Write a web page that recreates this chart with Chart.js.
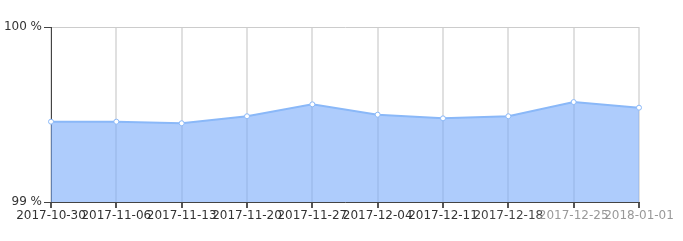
<!DOCTYPE html>
<html>
<head>
<meta charset="utf-8">
<style>
html,body{margin:0;padding:0;background:#fff;}
#wrap{width:683px;height:241px;}
</style>
<script src="https://cdn.jsdelivr.net/npm/chart.js@4/dist/chart.umd.min.js"></script>
</head>
<body>
<div id="wrap"><canvas id="c" width="683" height="241"></canvas></div>
<script>
const categories = ['2017-10-30','2017-11-06','2017-11-13','2017-11-20','2017-11-27','2017-12-04','2017-12-11','2017-12-18','2017-12-25','2018-01-01'];
const availability = [99.459, 99.459, 99.450, 99.490, 99.558, 99.499, 99.478, 99.490, 99.571, 99.539];
const yTicks = [99, 100];
const xLabelColors = ['#333','#333','#333','#333','#333','#333','#333','#444','#999','#999'];

new Chart(document.getElementById('c'), {
  type: 'line',
  data: {
    labels: categories,
    datasets: [{
      data: availability,
      fill: 'start',
      backgroundColor: 'rgba(120,170,250,0.6)',
      borderColor: '#8ab8f8',
      borderWidth: 2,
      tension: 0,
      pointRadius: 2.5,
      pointBackgroundColor: '#fff',
      pointBorderColor: '#8ab8f8',
      pointBorderWidth: 1
    }]
  },
  options: {
    responsive: false,
    animation: false,
    devicePixelRatio: 1,
    layout: { padding: { left: 0, right: 44, top: 27, bottom: 0 } },
    plugins: { legend: { display: false }, tooltip: { enabled: false } },
    scales: {
      x: {
        offset: false,
        afterFit: s => { s.height = 39; },
        grid: { color: '#e0e0e0', lineWidth: 2, tickLength: 6, tickColor: '#555' },
        border: { color: '#444', width: 1 },
        ticks: {
          autoSkip: false, maxRotation: 0, minRotation: 0, padding: 1,
          color: xLabelColors,
          font: { family: 'DejaVu Sans', size: 12 }
        }
      },
      y: {
        min: 99, max: 100,
        afterFit: s => { s.width = 51; },
        afterBuildTicks: s => { s.ticks = yTicks.map(v => ({ value: v })); },
        grid: { color: '#cccccc', lineWidth: 1, tickLength: 7, tickColor: '#444' },
        border: { color: '#444', width: 1 },
        ticks: {
          padding: 2,
          color: '#333',
          font: { family: 'DejaVu Sans', size: 12 },
          callback: v => v + ' %'
        }
      }
    }
  }
});
</script>
</body>
</html>
